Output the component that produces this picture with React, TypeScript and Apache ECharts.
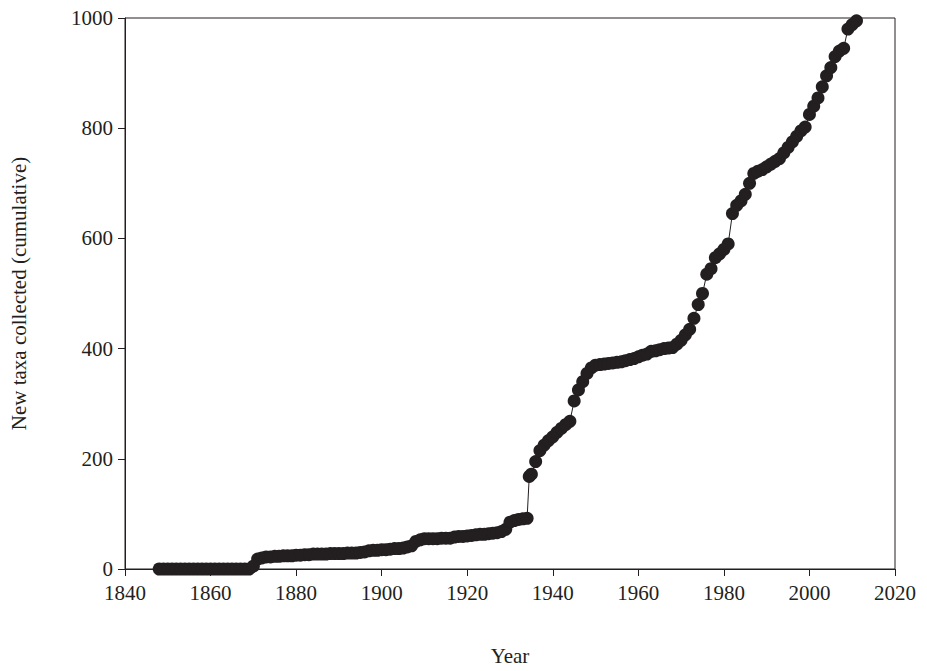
import React, { useEffect, useRef } from 'react';
import * as echarts from 'echarts';

const years = [
  1848, 1849, 1850, 1851, 1852, 1853, 1854, 1855, 1856, 1857, 1858, 1859, 1860, 1861, 1862, 1863, 1864, 1865, 1866, 1867, 1868, 1869,
  1870, 1871, 1872, 1873, 1874, 1875, 1876, 1877, 1878, 1879, 1880, 1881, 1882, 1883, 1884, 1885, 1886, 1887, 1888, 1889, 1890, 1891, 1892, 1893, 1894, 1895, 1896, 1897, 1898, 1899,
  1900, 1901, 1902, 1903, 1904, 1905, 1906, 1907, 1908, 1909, 1910, 1911, 1912, 1913, 1914, 1915, 1916, 1917, 1918, 1919, 1920, 1921, 1922, 1923, 1924, 1925, 1926, 1927, 1928, 1929,
  1930, 1931, 1932, 1933, 1934,
  1934.5, 1935, 1936, 1937, 1938, 1939, 1940, 1941, 1942, 1943, 1944, 1945, 1946, 1947, 1948, 1949, 1950, 1951, 1952, 1953, 1954, 1955, 1956, 1957, 1958, 1959,
  1960, 1961, 1962, 1963, 1964, 1965, 1966, 1967, 1968,
  1969, 1970, 1971, 1972, 1973, 1974, 1975, 1976, 1977, 1978, 1979, 1980, 1981, 1982, 1983, 1984, 1985, 1986, 1987, 1988, 1989, 1990, 1991, 1992, 1993, 1994, 1995, 1996, 1997, 1998, 1999,
  2000, 2001, 2002, 2003, 2004, 2005, 2006, 2007, 2008, 2009, 2010, 2011,
];
const counts = [
  0, 0, 0, 0, 0, 0, 0, 0, 0, 0, 0, 0, 0, 0, 0, 0, 0, 0, 0, 0, 0, 0,
  5, 18, 20, 22, 22, 23, 23, 24, 24, 24, 25, 25, 26, 26, 27, 27, 27, 27, 28, 28, 28, 28, 29, 29, 29, 30, 31, 33, 34, 34,
  35, 35, 36, 37, 37, 38, 40, 42, 50, 53, 55, 55, 55, 55, 56, 56, 56, 58, 59, 59, 60, 61, 62, 63, 63, 64, 65, 66, 68, 72,
  85, 88, 90, 91, 92,
  168, 172, 195, 215, 225, 233, 240, 248, 255, 262, 268, 305, 325, 340, 355, 365, 370, 371, 372, 373, 374, 375, 376, 378, 380, 382,
  385, 388, 390, 395, 396, 398, 400, 401, 402,
  408, 415, 425, 435, 455, 480, 500, 535, 545, 565, 572, 580, 590, 645, 660, 668, 680, 700, 718, 722, 725, 730, 735, 740, 745, 755, 765, 775, 785, 795, 802,
  825, 840, 855, 875, 895, 910, 930, 940, 945, 980, 988, 995,
];

const xTicks = [1840, 2020, 20];
const yTicks = [0, 1000, 200];

export default function App() {
  const ref = useRef<HTMLDivElement | null>(null);

  useEffect(() => {
    if (!ref.current) return;
    const chart = echarts.init(ref.current, undefined, { renderer: 'svg' });
    const font = { fontFamily: 'Liberation Serif', fontSize: 21, color: '#231f20' };
    const axisLine = { show: true, lineStyle: { color: '#231f20', width: 1 } };
    const tick = { show: true, length: 7, lineStyle: { color: '#231f20' } };
    chart.setOption({
      animation: false,
      grid: { left: 125, right: 32, top: 18, bottom: 99, show: true, borderColor: '#231f20', borderWidth: 1 },
      xAxis: {
        type: 'value',
        min: xTicks[0], max: xTicks[1], interval: xTicks[2],
        name: 'Year', nameLocation: 'middle', nameGap: 76, nameTextStyle: font,
        axisLine, axisTick: tick,
        axisLabel: { ...font, margin: 13, formatter: (v: number) => String(v) }, splitLine: { show: false },
      },
      yAxis: {
        type: 'value',
        min: yTicks[0], max: yTicks[1], interval: yTicks[2],
        name: 'New taxa collected (cumulative)', nameLocation: 'middle', nameGap: 96, nameTextStyle: font,
        axisLine, axisTick: tick,
        axisLabel: { ...font, margin: 12, formatter: (v: number) => String(v) }, splitLine: { show: false },
      },
      series: [{
        type: 'line',
        data: years.map((y, i) => [y, counts[i]]),
        symbol: 'circle', symbolSize: 13, showSymbol: true,
        lineStyle: { color: '#231f20', width: 1 },
        itemStyle: { color: '#231f20' },
      }],
    });
    return () => chart.dispose();
  }, []);

  return <div ref={ref} style={{ width: 927, height: 671, margin: -8 }} />;
}
